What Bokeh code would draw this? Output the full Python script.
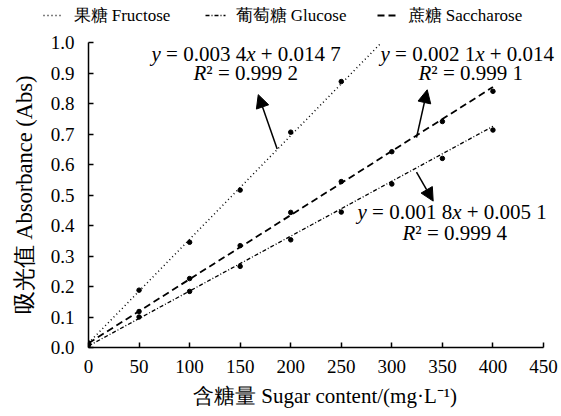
from bokeh.plotting import figure
from bokeh.layouts import column
from bokeh.models import (Range1d, FixedTicker, Label, Arrow, NormalHead)
from bokeh.core.properties import value
from bokeh.embed import file_html
from bokeh.resources import INLINE

# ---------------- data ----------------
conc_fru = [0, 50, 100, 150, 200, 250]
abs_fru = [0.015, 0.188, 0.345, 0.516, 0.706, 0.872]
conc_glu = [0, 50, 100, 150, 200, 250, 300, 350, 400]
abs_glu = [0.008, 0.100, 0.184, 0.266, 0.353, 0.444, 0.536, 0.620, 0.713]
conc_sac = [0, 50, 100, 150, 200, 250, 300, 350, 400]
abs_sac = [0.012, 0.118, 0.226, 0.334, 0.443, 0.544, 0.642, 0.741, 0.840]

fit_fru = (0.0034, 0.0147)
fit_glu = (0.0018, 0.0051)
fit_sac = (0.0021, 0.014)

x_ticks = [0, 50, 100, 150, 200, 250, 300, 350, 400, 450]
y_ticks = [0.0, 0.1, 0.2, 0.3, 0.4, 0.5, 0.6, 0.7, 0.8, 0.9, 1.0]
y_tick_labels = ["0.0", "0.1", "0.2", "0.3", "0.4", "0.5", "0.6", "0.7", "0.8", "0.9", "1.0"]

legend_labels = ["果糖 Fructose", "葡萄糖 Glucose", "蔗糖 Saccharose"]
x_title = "含糖量 Sugar content/(mg·L⁻¹)"
y_title = "吸光值 Absorbance (Abs)"

FONT = "Liberation Serif"
STYLES = [dict(line_width=1.5, line_dash="1 3"),
          dict(line_width=1.3, line_dash="4 2 1 2"),
          dict(line_width=1.8, line_dash="7 4")]

# ---------------- layout constants ----------------
W = 561
LEG_H = 28
MAIN_H = 416 - LEG_H
L, T, B = 88, 14, 69
X_MAX, Y_MAX = 450, 1.0
PX_PER_X = 455.0 / 450.0          # x=450 sits at pixel 543
x_end = (W - L) / PX_PER_X        # frame runs to the right edge so texts are not clipped
FRAME_BOTTOM = LEG_H + MAIN_H - B  # 347 in page pixels
FRAME_H = MAIN_H - B - T

# ---------------- legend strip ----------------
pl = figure(width=W, height=LEG_H, output_backend="svg", toolbar_location=None,
            x_range=Range1d(0, W), y_range=Range1d(LEG_H, 0),
            min_border=0, min_border_left=0, min_border_right=0,
            min_border_top=0, min_border_bottom=0)
pl.frame_align = False
pl.axis.visible = False
pl.grid.visible = False
pl.outline_line_color = None
pl.background_fill_color = "white"
pl.border_fill_color = "white"

leg_x = [43, 205, 377]
leg_y = 15
for lx, lab, st in zip(leg_x, legend_labels, STYLES):
    pl.line([lx, lx + 20], [leg_y, leg_y], line_color="black", **st)
    pl.text(x=[lx + 30], y=[leg_y], text=[lab], text_font=value(FONT),
            text_font_size="17px", text_color="black",
            text_baseline="middle", text_align="left")

# ---------------- main plot ----------------
p = figure(width=W, height=MAIN_H, output_backend="svg", toolbar_location=None,
           x_range=Range1d(0, x_end), y_range=Range1d(0, Y_MAX),
           min_border_left=L, min_border_right=0, min_border_top=T, min_border_bottom=B)
p.frame_align = False
p.outline_line_color = None
p.grid.visible = False
p.background_fill_color = "white"
p.border_fill_color = "white"

for ax in (p.xaxis[0], p.yaxis[0]):
    ax.axis_line_color = "black"
    ax.axis_line_width = 1.5
    ax.major_tick_line_color = "black"
    ax.major_tick_line_width = 1.5
    ax.major_tick_in = 5
    ax.major_tick_out = 0
    ax.minor_tick_line_color = None
    ax.major_label_text_font = FONT
    ax.major_label_text_font_size = "19px"
    ax.major_label_text_color = "black"
    ax.axis_label_text_font = FONT
    ax.axis_label_text_font_style = "normal"
    ax.axis_label_text_color = "black"

p.xaxis.axis_label_text_font_size = "21px"
p.yaxis.axis_label_text_font_size = "22.5px"
p.xaxis.bounds = (0, X_MAX)
p.xaxis.ticker = FixedTicker(ticks=x_ticks)
p.yaxis.ticker = FixedTicker(ticks=y_ticks)
p.yaxis.major_label_overrides = {t: s for t, s in zip(y_ticks, y_tick_labels)}
p.xaxis.axis_label = x_title
p.yaxis.axis_label = y_title
p.xaxis.major_label_standoff = 12
p.xaxis.axis_label_standoff = 8
p.yaxis.major_label_standoff = 14
p.yaxis.axis_label_standoff = 11

def fit_line(fit, x0, x1):
    a, b = fit
    return [x0, x1], [a * x0 + b, a * x1 + b]

fx, fy = fit_line(fit_fru, 0, (Y_MAX - fit_fru[1]) / fit_fru[0])
gx, gy = fit_line(fit_glu, 0, conc_glu[-1])
sx, sy = fit_line(fit_sac, 0, conc_sac[-1])

p.line(fx, fy, line_color="black", **STYLES[0])
p.line(gx, gy, line_color="black", **STYLES[1])
p.line(sx, sy, line_color="black", **STYLES[2])

p.scatter(conc_fru, abs_fru, size=4.5, color="black")
p.scatter(conc_glu, abs_glu, size=4.5, color="black")
p.scatter(conc_sac, abs_sac, size=4.5, color="black")

# equation annotations (positions in page pixels of the picture)
def px2x(px):
    return (px - L) / PX_PER_X

def py2y(py):
    return (FRAME_BOTTOM - py) / FRAME_H * Y_MAX

IT_WIDTHS = {"y": 0.444, "x": 0.444, "R": 0.611}
WIDTHS = {" ": 0.25, ".": 0.25, "=": 0.564, "+": 0.564, "²": 0.3}

def text_w(s, italic):
    tbl = IT_WIDTHS if italic else WIDTHS
    return sum(tbl.get(ch, 0.5) for ch in s)

def add_eq(px, py, segments, size=21):
    # segments: (text, italic, leading gap in em)
    off = 0.0
    for txt, it, gap in segments:
        off += gap * size
        p.add_layout(Label(x=px2x(px), y=py2y(py), x_offset=off, text=txt,
                           text_font=FONT, text_font_size=f"{size}px",
                           text_font_style="italic" if it else "normal",
                           text_color="black", text_baseline="middle", text_align="left"))
        off += text_w(txt, it) * size

eq_fru = "0.003 4", "0.014 7", "0.999 2"
eq_sac = "0.002 1", "0.014", "0.999 1"
eq_glu = "0.001 8", "0.005 1", "0.999 4"

def eq_segments(a, b):
    return [("y", True, 0), ("=", False, 0.25), (a, False, 0.25), ("x", True, 0),
            ("+", False, 0.25), (b, False, 0.25)]

def r2_segments(r):
    return [("R", True, 0), ("²", False, 0), ("=", False, 0.25), (r, False, 0.25)]

add_eq(151, 53, eq_segments(eq_fru[0], eq_fru[1]))
add_eq(193, 72, r2_segments(eq_fru[2]))
add_eq(380, 53, eq_segments(eq_sac[0], eq_sac[1]))
add_eq(418, 72, r2_segments(eq_sac[2]))
add_eq(357, 211, eq_segments(eq_glu[0], eq_glu[1]))
add_eq(402, 232, r2_segments(eq_glu[2]))

# arrows (tail on the fit line -> head at the label)
arrows = [((186.6, 0.651), (167.9, 0.829)),
          ((324.4, 0.688), (335.0, 0.845)),
          ((324.4, 0.575), (340.9, 0.480))]
for (x0, y0), (x1, y1) in arrows:
    p.add_layout(Arrow(x_start=x0, y_start=y0, x_end=x1, y_end=y1,
                       line_color="black", line_width=1.5,
                       end=NormalHead(size=13, fill_color="black", line_color="black")))

layout = column(pl, p, spacing=0)
open("out.html", "w").write(file_html(layout, INLINE))
